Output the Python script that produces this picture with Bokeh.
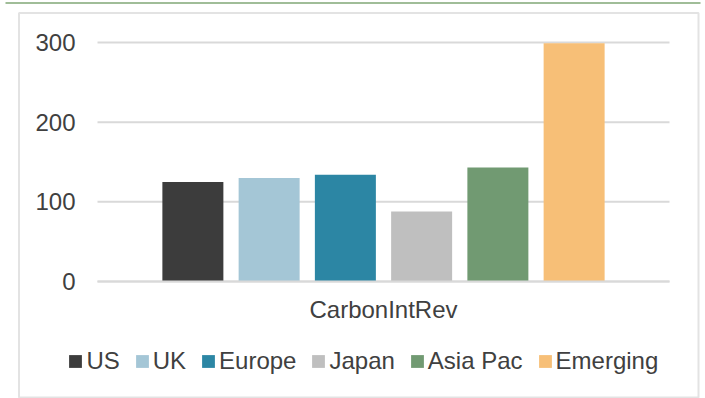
from bokeh.plotting import figure
from bokeh.models import (ColumnDataSource, Range1d, FixedTicker, LinearAxis,
                          Legend, LegendItem, BoxAnnotation)
from bokeh.transform import dodge
from bokeh.embed import file_html
from bokeh.resources import INLINE

# --- data -------------------------------------------------------------
categories = ["CarbonIntRev"]
regions = ["US", "UK", "Europe", "Japan", "Asia Pac", "Emerging"]
us = [125]
uk = [130]
europe = [134]
japan = [88]
asia_pac = [143]
emerging = [299]
y_ticks = [0, 100, 200, 300]

colors = ["#3c3c3c", "#a4c6d6", "#2c86a4", "#bfbfbf", "#719a72", "#f7bf77"]

# --- layout (pixels) --------------------------------------------------
W, H = 705, 398
PLOT_L, PLOT_R = 97, 669          # plot area, x
PLOT_T, PLOT_B = 42, 281          # plot area, y
Y_MAX = y_ticks[-1]

px_x = PLOT_R - PLOT_L             # pixels per category unit
px_y = (PLOT_B - PLOT_T) / Y_MAX   # pixels per value unit

FONT = "Liberation Sans"
TEXT = "#404040"
GRID = "#d9d9d9"

# one category centred at 0.5 on a 0..1 plot-area axis
source = ColumnDataSource(dict(
    x=[0.5 + i for i in range(len(categories))],
    US=us, UK=uk, Europe=europe, Japan=japan,
    **{"Asia Pac": asia_pac, "Emerging": emerging},
))
grid_src = ColumnDataSource(dict(y=y_ticks, x0=[0] * len(y_ticks), x1=[1] * len(y_ticks)))

p = figure(
    width=W, height=H,
    x_range=Range1d(-PLOT_L / px_x, (W - PLOT_L) / px_x),
    y_range=Range1d(-(H - PLOT_B) / px_y, Y_MAX + PLOT_T / px_y),
    x_axis_type=None, y_axis_type=None,
    output_backend="svg", toolbar_location=None,
)
p.min_border = 0
p.outline_line_color = None
p.background_fill_color = "white"
p.border_fill_color = "white"
p.xgrid.visible = False
p.ygrid.visible = False

# horizontal gridlines across the plot area
p.segment(x0="x0", x1="x1", y0="y", y1="y", source=grid_src,
          line_color=GRID, line_width=2, level="underlay")

# bars: width w, step 1.25 w (a quarter-bar gap between series)
bar_w = 61 / px_x
step = 1.25 * bar_w
n = len(regions)
renderers = []
for i, (name, col) in enumerate(zip(regions, colors)):
    off = (i - (n - 1) / 2) * step
    r = p.vbar(x=dodge("x", off), top=name, width=bar_w,
               source=source, fill_color=col, line_color=None)
    renderers.append(r)

# value axis on the left edge of the plot area
yaxis = LinearAxis(fixed_location=0, ticker=FixedTicker(ticks=y_ticks))
yaxis.axis_line_color = None
yaxis.major_tick_line_color = None
yaxis.minor_tick_line_color = None
yaxis.major_tick_out = 0
yaxis.major_label_standoff = 22
yaxis.major_label_text_font = FONT
yaxis.major_label_text_font_size = "24px"
yaxis.major_label_text_color = TEXT
p.add_layout(yaxis, "left")

# category axis along zero
xaxis = LinearAxis(fixed_location=0, bounds=(0, 1),
                   ticker=FixedTicker(ticks=source.data["x"]),
                   major_label_overrides={x: c for x, c in zip(source.data["x"], categories)})
xaxis.axis_line_color = GRID
xaxis.axis_line_width = 2
xaxis.major_tick_line_color = None
xaxis.minor_tick_line_color = None
xaxis.major_tick_out = 0
xaxis.major_label_standoff = 14
xaxis.major_label_text_font = FONT
xaxis.major_label_text_font_size = "24px"
xaxis.major_label_text_color = TEXT
p.add_layout(xaxis, "below")

# legend under the category label
legend = Legend(
    items=[LegendItem(label=name, renderers=[r]) for name, r in zip(regions, renderers)],
    orientation="horizontal",
    location=(67.4, H - 374.5),
    glyph_width=16, glyph_height=16,
    label_standoff=3, spacing=14, padding=0, margin=0,
    label_text_font=FONT, label_text_font_size="24px", label_text_color=TEXT,
    border_line_color=None, background_fill_alpha=0,
)
p.add_layout(legend, "center")

# chart border and the accent rule above it
p.add_layout(BoxAnnotation(left=18.5, right=698, top=H - 12.5, bottom=H - 397,
                           left_units="screen", right_units="screen",
                           top_units="screen", bottom_units="screen",
                           fill_alpha=0, line_color="#a3a3a3", line_width=2))
p.add_layout(BoxAnnotation(left=5, right=700, top=H - 1.5, bottom=H - 3.5,
                           left_units="screen", right_units="screen",
                           top_units="screen", bottom_units="screen",
                           fill_color="#a0bd98", fill_alpha=1, line_color=None))

open("out.html", "w").write(file_html(p, INLINE))
